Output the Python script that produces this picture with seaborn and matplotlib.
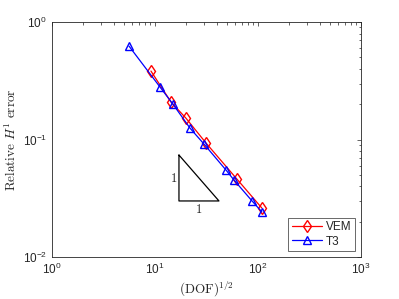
import numpy as np
import pandas as pd
import matplotlib
matplotlib.use("Agg")
import matplotlib.pyplot as plt
import seaborn as sns

# (log-log convergence plot)
vem_dof = [9.15, 14.3, 20.0, 31.3, 62.5, 109.0]
vem_err = [0.383, 0.209, 0.152, 0.0934, 0.0460, 0.0261]
t3_dof = [5.6, 11.2, 14.96, 21.9, 29.9, 48.9, 58.5, 87.5, 109.0]
t3_err = [0.625, 0.28, 0.20, 0.125, 0.0916, 0.055, 0.0452, 0.030, 0.0242]

# slope triangle corners
tri_x = [17.1, 17.1, 41.8, 17.1]
tri_y = [0.0738, 0.030, 0.030, 0.0738]

df_vem = pd.DataFrame({"dof": vem_dof, "err": vem_err})
df_t3 = pd.DataFrame({"dof": t3_dof, "err": t3_err})

sns.set_style("white")
plt.rcParams["font.family"] = ["Liberation Sans", "DejaVu Sans"]
plt.rcParams["mathtext.fontset"] = "cm"

fig = plt.figure(figsize=(3.99, 2.99), dpi=100)
ax = fig.add_axes([0.130, 0.1405, 0.775, 0.7855])

sns.lineplot(data=df_vem, x="dof", y="err", ax=ax, color="red", linewidth=0.9,
             marker="d", markersize=6, markerfacecolor="none", markeredgecolor="red",
             markeredgewidth=1.0, label="VEM")
sns.lineplot(data=df_t3, x="dof", y="err", ax=ax, color="blue", linewidth=0.9,
             marker="^", markersize=6, markerfacecolor="none", markeredgecolor="blue",
             markeredgewidth=1.0, label="T3")
ax.plot(tri_x, tri_y, color="black", linewidth=0.9)
ax.text(15.3, 0.047, r"$1$", fontsize=9, ha="center", va="center")
ax.text(np.sqrt(17.1 * 41.8), 0.0252, r"$1$", fontsize=9, ha="center", va="center")

ax.set_xscale("log")
ax.set_yscale("log")
ax.set_xlim(1, 1000)
ax.set_ylim(0.01, 1)
ax.set_xlabel(r"$\mathrm{(DOF)}^{1/2}$", fontsize=9.5, labelpad=2)
ax.set_ylabel(r"$\mathrm{Relative}\ H^1\ \mathrm{error}$", fontsize=9.5, labelpad=3)

for s in ax.spines.values():
    s.set_color("#262626")
    s.set_linewidth(0.6)
ax.tick_params(which="both", direction="in", top=True, right=True,
               colors="#262626", labelsize=8.5)
ax.tick_params(which="major", length=3, width=0.5)
ax.tick_params(which="minor", length=1.8, width=0.5)
ax.xaxis.set_minor_locator(matplotlib.ticker.LogLocator(base=10, subs=np.arange(2, 10)))
ax.yaxis.set_minor_locator(matplotlib.ticker.LogLocator(base=10, subs=np.arange(2, 10)))

leg = ax.legend(loc="lower right", fontsize=8.5, frameon=True, fancybox=False,
                handlelength=2.6, borderpad=0.3, labelspacing=0.2,
                handletextpad=0.3, borderaxespad=0.5)
leg.get_frame().set_edgecolor("#262626")
leg.get_frame().set_linewidth(0.6)

fig.savefig("out.png", dpi=100)
